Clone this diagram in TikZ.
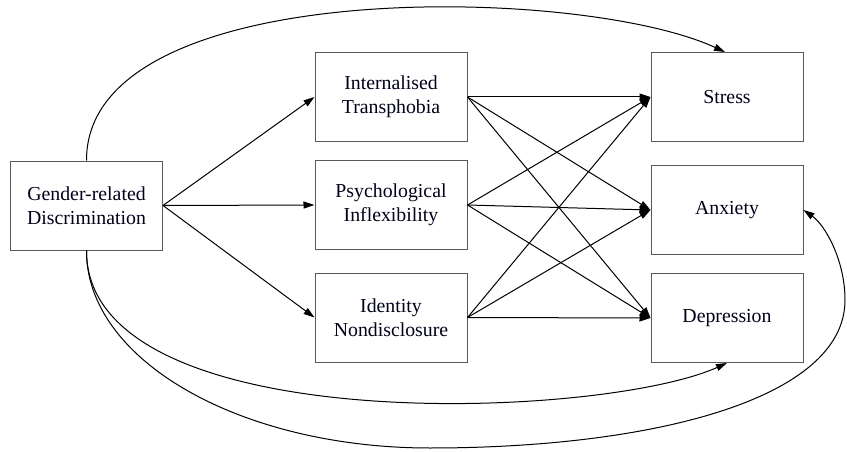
\documentclass[tikz,border=0pt]{standalone}
\usepackage{fontspec}
\setmainfont{Liberation Serif}
\usetikzlibrary{arrows.meta}
\begin{document}
\begin{tikzpicture}[x=1pt,y=-1pt,
  box/.style={draw=black!65, line width=1pt, minimum width=152pt, minimum height=89pt, inner sep=0pt, align=center, text=black!90!blue, font=\fontsize{19.8pt}{24pt}\selectfont},
  conn/.style={line width=1pt, -{Triangle[length=11pt,width=7pt]}}]
\useasboundingbox (0,0) rectangle (847,452);
\node[box] (grd) at (86.5,205.5) {Gender-related\\Discrimination};
\node[box] (it) at (391,97) {Internalised\\Transphobia};
\node[box] (pi) at (391,205) {Psychological\\Inflexibility};
\node[box] (idn) at (391,317.5) {Identity\\Nondisclosure};
\node[box] (st) at (727,97) {Stress};
\node[box] (an) at (727,210) {Anxiety};
\node[box] (de) at (727,318) {Depression};
\foreach \m in {it,pi,idn}{
  \draw[conn] (grd.east) -- (\m.west);
  \foreach \o in {st,an,de}{
    \draw[conn] (\m.east) -- (\o.west);
  }
}
\draw[conn] (grd.north) .. controls (86,-25) and (580,-15) .. ([xshift=-2pt]st.north);
\draw[conn] (grd.south) .. controls (86,440) and (600,420) .. (de.south);
\draw[conn] (grd.south) .. controls (86,360) and (240,448) .. (430,448)
  .. controls (650,448) and (845,400) .. (845,300)
  .. controls (845,260) and (825,225) .. (an.east);
\end{tikzpicture}
\end{document}
